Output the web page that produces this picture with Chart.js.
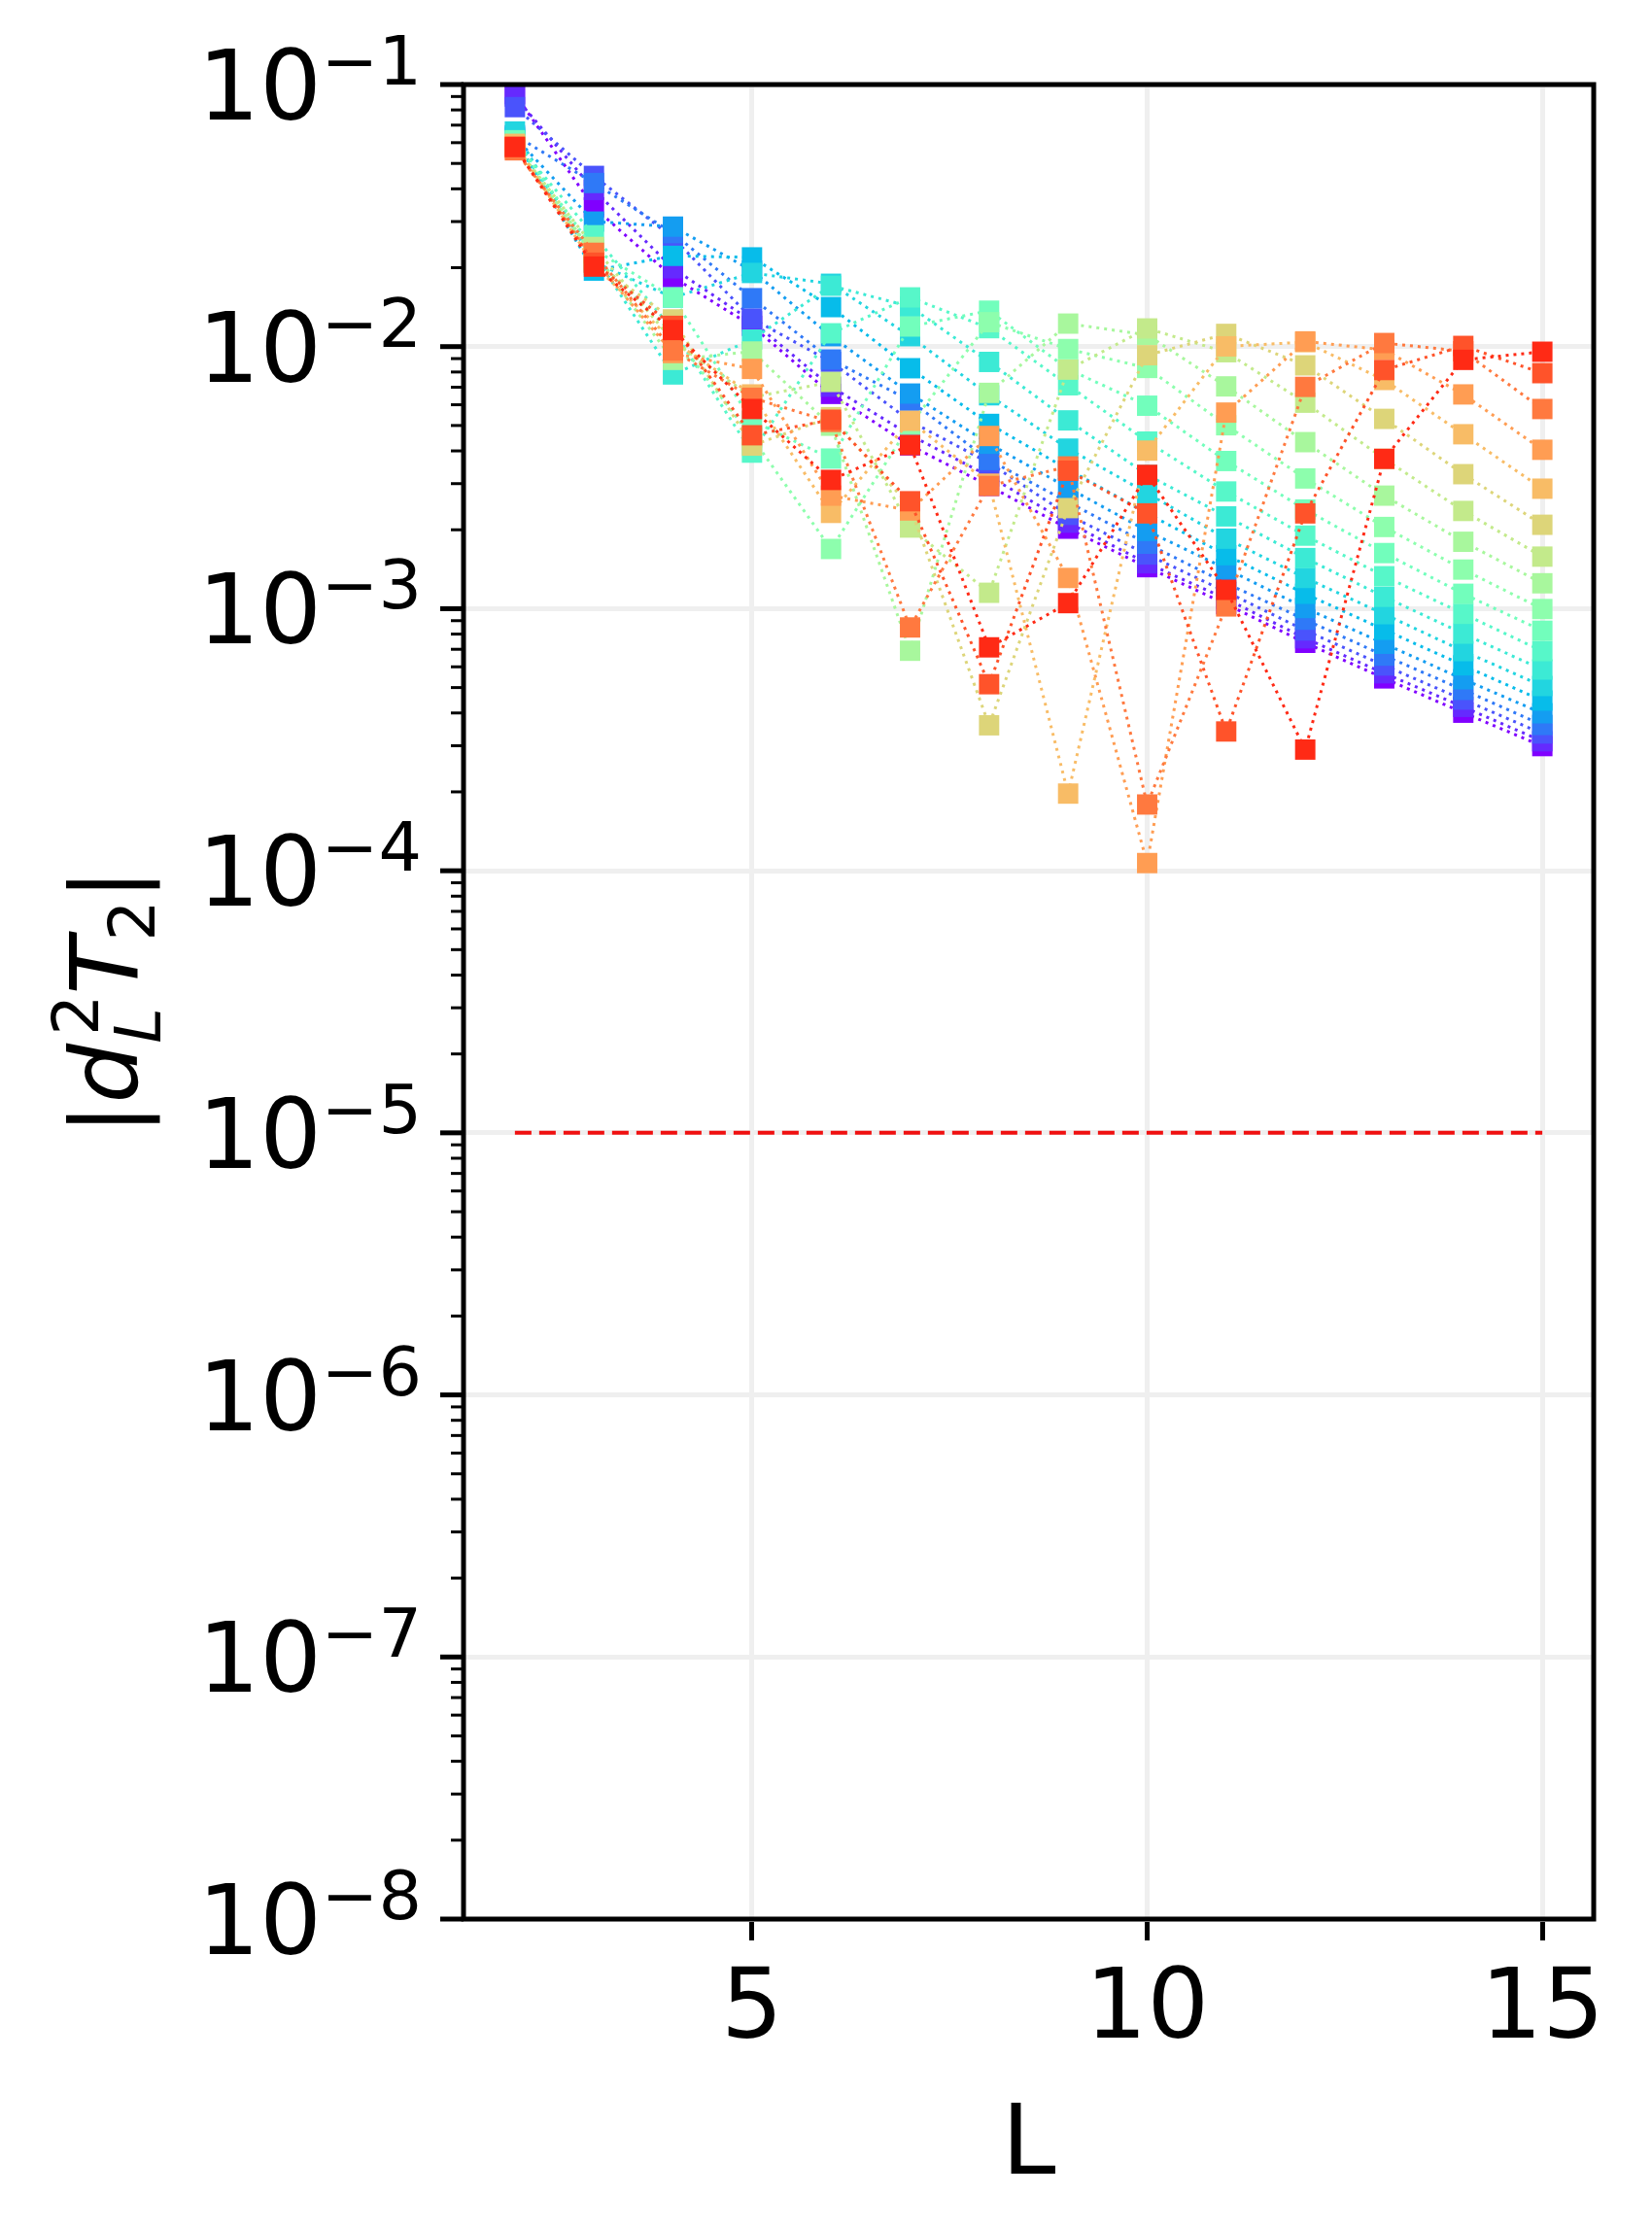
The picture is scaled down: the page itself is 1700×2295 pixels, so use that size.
<!DOCTYPE html>
<html>
<head>
<meta charset="utf-8">
<script src="https://cdn.jsdelivr.net/npm/chart.js@4.4.1/dist/chart.umd.min.js"></script>
<style>
  html, body { margin: 0; padding: 0; background: #fff; }
  canvas { display: block; }
</style>
</head>
<body>
<canvas id="chart" width="1700" height="2295"></canvas>
<script>
// L values on the x axis
var lengths = [2, 3, 4, 5, 6, 7, 8, 9, 10, 11, 12, 13, 14, 15];

// |d_L^2 T_2| for each curve (purple -> red)
var s0  = [0.092, 0.034, 0.0184, 0.0120, 0.0066, 0.0042, 0.00294, 0.00202, 0.00144, 0.00104, 0.000741, 0.000542, 0.000401, 0.000299];
var s1  = [0.090, 0.0396, 0.0199, 0.0125, 0.00703, 0.0046, 0.0032, 0.00213, 0.00149, 0.00109, 0.000771, 0.000567, 0.000422, 0.000312];
var s2  = [0.082, 0.0448, 0.026, 0.0128, 0.00875, 0.0052, 0.0036, 0.00228, 0.00161, 0.00116, 0.000826, 0.000607, 0.00045, 0.000334];
var s3  = [0.064, 0.0421, 0.0271, 0.0153, 0.00893, 0.00622, 0.00369, 0.00255, 0.00177, 0.00125, 0.000908, 0.000662, 0.00049, 0.00036];
var s4  = [0.063, 0.030, 0.0287, 0.0195, 0.01096, 0.00662, 0.00426, 0.00289, 0.00198, 0.00142, 0.001006, 0.000735, 0.000538, 0.000399];
var s5  = [0.062, 0.0195, 0.0222, 0.0219, 0.01415, 0.00827, 0.00507, 0.0034, 0.00231, 0.0016, 0.00114, 0.000831, 0.000608, 0.000446];
var s6  = [0.0662, 0.021, 0.0154, 0.0191, 0.01737, 0.01096, 0.00652, 0.00408, 0.00276, 0.00185, 0.00131, 0.000953, 0.000689, 0.000507];
var s7  = [0.061, 0.0225, 0.00783, 0.01064, 0.01707, 0.01422, 0.00874, 0.00523, 0.00324, 0.00225, 0.00156, 0.00111, 0.000803, 0.000586];
var s8  = [0.0605, 0.0266, 0.0116, 0.00394, 0.01124, 0.01541, 0.01176, 0.00712, 0.00434, 0.0028, 0.0019, 0.00133, 0.000956, 0.000689];
var s9  = [0.0613, 0.0235, 0.0154, 0.00521, 0.00374, 0.01193, 0.01371, 0.0082, 0.00595, 0.00366, 0.00239, 0.00163, 0.00114, 0.000824];
var s10 = [0.059, 0.022, 0.0112, 0.0045, 0.00169, 0.00503, 0.01239, 0.00979, 0.00829, 0.00501, 0.00314, 0.00205, 0.00141, 0.000997];
var s11 = [0.0585, 0.0225, 0.0089, 0.00958, 0.00499, 0.000691, 0.00666, 0.01224, 0.01108, 0.00705, 0.00432, 0.0027, 0.0018, 0.00125];
var s12 = [0.0585, 0.024, 0.0105, 0.0064, 0.00733, 0.00204, 0.00115, 0.00817, 0.01173, 0.00952, 0.00611, 0.00373, 0.00236, 0.00158];
var s13 = [0.058, 0.021, 0.0127, 0.00419, 0.00538, 0.00245, 0.000359, 0.00242, 0.00927, 0.01118, 0.00848, 0.0053, 0.00326, 0.00209];
var s14 = [0.0594, 0.0205, 0.0105, 0.00657, 0.00232, 0.00521, 0.0030, 0.000197, 0.00401, 0.01002, 0.0104, 0.00746, 0.00463, 0.00287];
var s15 = [0.057, 0.0215, 0.00945, 0.00822, 0.0027, 0.00237, 0.00456, 0.00131, 0.000107, 0.0056, 0.01047, 0.00972, 0.00657, 0.00404];
var s16 = [0.0561, 0.0228, 0.00967, 0.00638, 0.00516, 0.000848, 0.00294, 0.00349, 0.000179, 0.00102, 0.00702, 0.01032, 0.0096, 0.00578];
var s17 = [0.0578, 0.0209, 0.0120, 0.00459, 0.00526, 0.00257, 0.000515, 0.00336, 0.00231, 0.00034, 0.00231, 0.00814, 0.01006, 0.00792];
var s18 = [0.0578, 0.0202, 0.01156, 0.00578, 0.0031, 0.00421, 0.000712, 0.00105, 0.00324, 0.00118, 0.00029, 0.00373, 0.0089, 0.00956];
var curves = [s0, s1, s2, s3, s4, s5, s6, s7, s8, s9, s10, s11, s12, s13, s14, s15, s16, s17, s18];

// red dashed reference level
var thresholdX = [2, 15];
var thresholdY = [1e-5, 1e-5];

// ticks
var xTicks = [5, 10, 15];
var yExponents = [-8, -7, -6, -5, -4, -3, -2, -1];

// matplotlib "rainbow" colormap
function rainbow(t) {
  var r = Math.min(1, Math.abs(2 * t - 0.5));
  var g = Math.sin(Math.PI * t);
  var b = Math.max(0, Math.cos(Math.PI * t / 2));
  return 'rgb(' + Math.round(255 * r) + ',' + Math.round(255 * g) + ',' + Math.round(255 * b) + ')';
}

var datasets = curves.map(function (vals, i) {
  var c = rainbow(i / 19);
  return {
    data: lengths.map(function (x, j) { return { x: x, y: vals[j] }; }),
    borderColor: c,
    backgroundColor: c,
    borderWidth: 3,
    borderDash: [3, 5],
    pointStyle: 'rect',
    pointRadius: 14.8,
    pointHoverRadius: 14.8,
    pointBorderWidth: 0,
    tension: 0,
    fill: false,
    clip: 0,
    order: 100 - i
  };
});

datasets.push({
  data: thresholdX.map(function (x, j) { return { x: x, y: thresholdY[j] }; }),
  borderColor: '#f01010',
  borderWidth: 4,
  borderDash: [17, 8],
  pointRadius: 0,
  fill: false,
  order: 0
});

var FONT = '"DejaVu Sans"';

// spines, y ticks, y tick labels and y title (mathtext style)
var axisDecor = {
  id: 'axisDecor',
  afterDraw: function (chart) {
    var ctx = chart.ctx, a = chart.chartArea, y = chart.scales.y;
    ctx.save();
    ctx.strokeStyle = '#000';
    ctx.lineWidth = 5;
    ctx.strokeRect(a.left, a.top, a.right - a.left, a.bottom - a.top);

    // tick marks
    yExponents.forEach(function (e) {
      for (var m = 1; m <= 9; m++) {
        if (e === -1 && m > 1) break;
        var py = y.getPixelForValue(m * Math.pow(10, e));
        ctx.beginPath();
        ctx.lineWidth = m === 1 ? 5 : 3;
        ctx.moveTo(a.left, py);
        ctx.lineTo(a.left - (m === 1 ? 24 : 13), py);
        ctx.stroke();
      }
    });

    // labels 10^e
    ctx.fillStyle = '#000';
    ctx.textBaseline = 'alphabetic';
    yExponents.forEach(function (e) {
      var py = y.getPixelForValue(Math.pow(10, e));
      var base = '10', sup = '\u2212' + Math.abs(e);
      ctx.font = '100px ' + FONT;
      var wb = ctx.measureText(base).width;
      ctx.font = '70px ' + FONT;
      var ws = ctx.measureText(sup).width;
      var x0 = 434 - wb - ws;
      ctx.font = '100px ' + FONT;
      ctx.fillText(base, x0, py + 36);
      ctx.font = '70px ' + FONT;
      ctx.fillText(sup, x0 + wb, py);
    });

    // y title |d_L^2 T_2|
    var big = '97px ' + FONT, bigI = 'italic 97px ' + FONT;
    var small = '66px ' + FONT, smallI = 'italic 66px ' + FONT;
    var parts = [
      [{ t: '|', f: big, dy: 0 }],
      [{ t: 'd', f: bigI, dy: 0 }],
      [{ t: '2', f: small, dy: -40, dx: 8 }, { t: 'L', f: smallI, dy: 24, dx: 0 }],
      [{ t: 'T', f: bigI, dy: 0 }],
      [{ t: '2', f: small, dy: 18, dx: -4 }],
      [{ t: '|', f: big, dy: 0 }]
    ];
    var widths = parts.map(function (grp) {
      return Math.max.apply(null, grp.map(function (p) { ctx.font = p.f; return ctx.measureText(p.t).width + (p.dx || 0); }));
    });
    var total = widths.reduce(function (s, w) { return s + w; }, 0);
    var cy = (a.top + a.bottom) / 2;
    ctx.translate(141, cy);
    ctx.rotate(-Math.PI / 2);
    var x = -total / 2;
    parts.forEach(function (grp, k) {
      grp.forEach(function (p) {
        ctx.font = p.f;
        ctx.fillText(p.t, x + (p.dx || 0), p.dy);
      });
      x += widths[k];
    });
    ctx.restore();
  }
};

var ctx = document.getElementById('chart').getContext('2d');
var chart = new Chart(ctx, {
  type: 'line',
  data: { datasets: datasets },
  plugins: [axisDecor],
  options: {
    responsive: false,
    animation: false,
    devicePixelRatio: 1,
    layout: { padding: { top: 87, right: 60, left: 0, bottom: 0 }, autoPadding: false },
    plugins: { legend: { display: false }, tooltip: { enabled: false } },
    scales: {
      x: {
        type: 'linear',
        min: 1.35,
        max: 15.65,
        afterBuildTicks: function (s) { s.ticks = xTicks.map(function (v) { return { value: v }; }); },
        afterFit: function (s) { s.height = 320; },
        ticks: { font: { family: 'DejaVu Sans', size: 100 }, color: '#000', padding: 14, maxRotation: 0 },
        grid: { color: '#efefef', lineWidth: 5, drawTicks: true, tickLength: 22, tickWidth: 5, tickColor: '#000' },
        border: { display: false },
        title: { display: true, text: 'L', font: { family: 'DejaVu Sans', size: 100 }, color: '#000', padding: { top: 0, bottom: 24 } }
      },
      y: {
        type: 'logarithmic',
        min: 1e-8,
        max: 1e-1,
        afterBuildTicks: function (s) { s.ticks = yExponents.map(function (e) { return { value: Math.pow(10, e) }; }); },
        afterFit: function (s) { s.width = 477; },
        ticks: { display: false },
        grid: { color: '#efefef', lineWidth: 5, drawTicks: false },
        border: { display: false }
      }
    }
  }
});
</script>
</body>
</html>
